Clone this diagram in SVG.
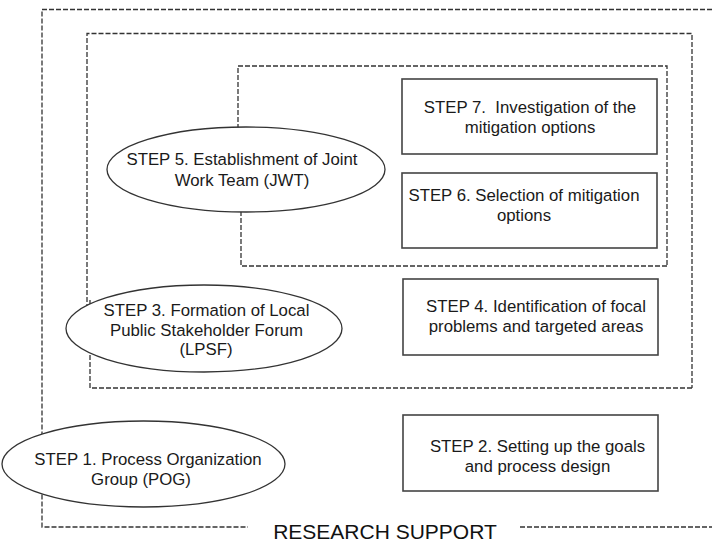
<svg xmlns="http://www.w3.org/2000/svg" width="712" height="542" viewBox="0 0 712 542">
  <style>
    .frame { fill: none; stroke: #333; stroke-width: 1.3; stroke-dasharray: 5 2; }
    .box { fill: #fff; stroke: #444; stroke-width: 1.6; }
    .oval { fill: #fff; stroke: #333; stroke-width: 1.3; }
    text { font-family: "Liberation Sans", Arial, sans-serif; font-size: 16.8px; fill: #1a1a1a; text-anchor: middle; }
    .title { font-size: 21px; fill: #111; }
  </style>

  <rect width="712" height="542" fill="#fff"/>

  <!-- nested dashed frames -->
  <g id="frames">
    <!-- outer frame: research support, open to the right -->
    <path class="frame" d="M712,9.5 H42 V527 H248 M520,527 H712"/>
    <!-- middle frame -->
    <path class="frame" d="M692,388 H90 V300 M87,330 V33.5 H692 V388"/>
    <!-- inner frame -->
    <path class="frame" d="M667,266 H241 V190 M238,150 V66 H667 V266"/>
  </g>

  <text class="title" x="385" y="539">RESEARCH SUPPORT</text>

  <g id="step7">
    <rect class="box" x="402" y="79" width="255" height="75"/>
    <text x="530" y="113">STEP 7.&#160; Investigation of the</text>
    <text x="530" y="133">mitigation options</text>
  </g>

  <g id="step6">
    <rect class="box" x="402" y="173" width="255" height="75"/>
    <text x="524" y="201">STEP 6. Selection of mitigation</text>
    <text x="524" y="221">options</text>
  </g>

  <g id="step5">
    <ellipse class="oval" cx="246" cy="169.5" rx="139" ry="42.5"/>
    <text x="242" y="165">STEP 5. Establishment of Joint</text>
    <text x="242" y="186">Work Team (JWT)</text>
  </g>

  <g id="step4">
    <rect class="box" x="403" y="279" width="255" height="76"/>
    <text x="536" y="312">STEP 4. Identification of focal</text>
    <text x="536" y="332">problems and targeted areas</text>
  </g>

  <g id="step3">
    <ellipse class="oval" cx="204" cy="328.5" rx="138" ry="43.5"/>
    <text x="206.5" y="316">STEP 3. Formation of Local</text>
    <text x="206.5" y="335.5">Public Stakeholder Forum</text>
    <text x="206" y="355">(LPSF)</text>
  </g>

  <g id="step2">
    <rect class="box" x="403" y="415" width="255" height="76"/>
    <text x="537.5" y="452">STEP 2. Setting up the goals</text>
    <text x="537.5" y="472">and process design</text>
  </g>

  <g id="step1">
    <ellipse class="oval" cx="143.5" cy="464" rx="141.5" ry="43"/>
    <text x="148" y="465">STEP 1. Process Organization</text>
    <text x="141" y="485">Group (POG)</text>
  </g>

  <g id="connectors"/>
</svg>
